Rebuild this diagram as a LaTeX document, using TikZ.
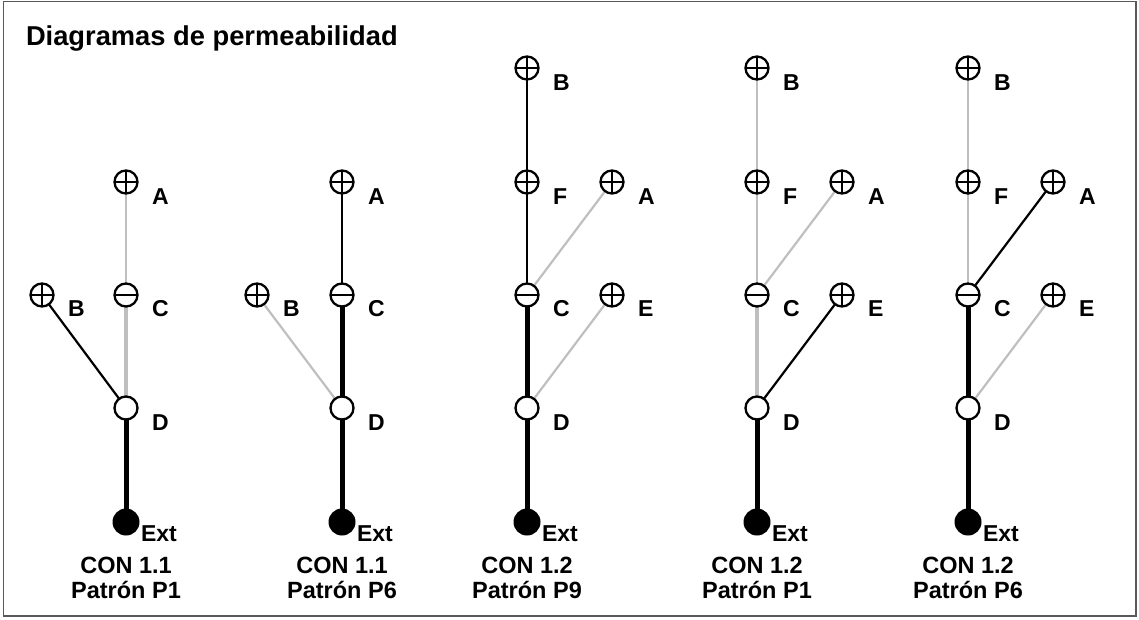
\documentclass[tikz,border=0pt]{standalone}
\usepackage{fontspec}
\setmainfont{Liberation Sans}
\usetikzlibrary{backgrounds}
\begin{document}
\begin{tikzpicture}[x=1pt,y=-1pt,
  every node/.style={inner sep=0pt, outer sep=0pt},
  lab/.style={font=\bfseries\fontsize{23}{27}\selectfont, anchor=base west},
  captxt/.style={font=\bfseries\fontsize{23.5}{27}\selectfont, anchor=base},
  sym/.style={circle, draw=black, line width=2.3pt, fill=white, minimum size=23pt},
  symplus/.style={sym, path picture={\draw[line width=1.9pt] (path picture bounding box.north) -- (path picture bounding box.south) (path picture bounding box.west) -- (path picture bounding box.east);}},
  symminus/.style={sym, path picture={\draw[line width=1.9pt] (path picture bounding box.west) -- (path picture bounding box.east);}},
  symopen/.style={sym},
  symext/.style={circle, fill=black, minimum size=27pt},
  bk/.style={line width=2.2pt, black},
  bkthick/.style={line width=5pt, black},
  gy/.style={line width=2.2pt, black!25},
  gythick/.style={line width=4.5pt, black!25},
]
\useasboundingbox (0,0) rectangle (1139,619);
\draw[line width=1.5pt, black!65] (3.5,1.5) rectangle (1136,616);
\node[anchor=base west, font=\bfseries\fontsize{27.3}{31}\selectfont] (title) at (26,45) {Diagramas de permeabilidad};

% ---------- Diagram 1 ----------
\node[symplus] (a1) at (126,182) {};
\node[symminus] (c1) at (126,295) {};
\node[symopen] (d1) at (126,408) {};
\node[symext] (x1) at (126,522) {};
\node[symplus] (b1) at (42,295) {};
\node[lab] (la1) at (152,204) {A};
\node[lab] (lc1) at (152,316) {C};
\node[lab] (ld1) at (152,430) {D};
\node[lab] (lb1) at (68,316) {B};
\node[lab] (lx1) at (141,541) {Ext};
\node[captxt] (t1) at (126,573) {CON 1.1};
\node[captxt] (p1) at (126,598) {Patrón P1};
\begin{scope}[on background layer]
\draw[gy] (a1.center) -- (c1.center);
\draw[gythick] (c1.center) -- (d1.center);
\draw[bk] (b1.center) -- (d1.center);
\draw[bkthick] (d1.center) -- (x1.center);
\end{scope}

% ---------- Diagram 2 ----------
\node[symplus] (a2) at (342,182) {};
\node[symminus] (c2) at (342,295) {};
\node[symopen] (d2) at (342,408) {};
\node[symext] (x2) at (342,522) {};
\node[symplus] (b2) at (257,295) {};
\node[lab] (la2) at (368,204) {A};
\node[lab] (lc2) at (368,316) {C};
\node[lab] (ld2) at (368,430) {D};
\node[lab] (lb2) at (283,316) {B};
\node[lab] (lx2) at (357,541) {Ext};
\node[captxt] (t2) at (342,573) {CON 1.1};
\node[captxt] (p2) at (342,598) {Patrón P6};
\begin{scope}[on background layer]
\draw[bk] (a2.center) -- (c2.center);
\draw[bkthick] (c2.center) -- (d2.center);
\draw[gy] (b2.center) -- (d2.center);
\draw[bkthick] (d2.center) -- (x2.center);
\end{scope}

% ---------- Diagram 3 ----------
\node[symplus] (b3) at (527,68) {};
\node[symplus] (f3) at (527,182) {};
\node[symplus] (a3) at (612,182) {};
\node[symminus] (c3) at (527,295) {};
\node[symplus] (e3) at (612,295) {};
\node[symopen] (d3) at (527,408) {};
\node[symext] (x3) at (527,522) {};
\node[lab] (lb3) at (553,90) {B};
\node[lab] (lf3) at (553,204) {F};
\node[lab] (la3) at (638,204) {A};
\node[lab] (lc3) at (553,316) {C};
\node[lab] (le3) at (638,316) {E};
\node[lab] (ld3) at (553,430) {D};
\node[lab] (lx3) at (542,541) {Ext};
\node[captxt] (t3) at (527,573) {CON 1.2};
\node[captxt] (p3) at (527,598) {Patrón P9};
\begin{scope}[on background layer]
\draw[bk] (b3.center) -- (f3.center);
\draw[bk] (f3.center) -- (c3.center);
\draw[gy] (a3.center) -- (c3.center);
\draw[bkthick] (c3.center) -- (d3.center);
\draw[gy] (e3.center) -- (d3.center);
\draw[bkthick] (d3.center) -- (x3.center);
\end{scope}

% ---------- Diagram 4 ----------
\node[symplus] (b4) at (757,68) {};
\node[symplus] (f4) at (757,182) {};
\node[symplus] (a4) at (842,182) {};
\node[symminus] (c4) at (757,295) {};
\node[symplus] (e4) at (842,295) {};
\node[symopen] (d4) at (757,408) {};
\node[symext] (x4) at (757,522) {};
\node[lab] (lb4) at (783,90) {B};
\node[lab] (lf4) at (783,204) {F};
\node[lab] (la4) at (868,204) {A};
\node[lab] (lc4) at (783,316) {C};
\node[lab] (le4) at (868,316) {E};
\node[lab] (ld4) at (783,430) {D};
\node[lab] (lx4) at (772,541) {Ext};
\node[captxt] (t4) at (757,573) {CON 1.2};
\node[captxt] (p4) at (757,598) {Patrón P1};
\begin{scope}[on background layer]
\draw[gy] (b4.center) -- (f4.center);
\draw[gy] (f4.center) -- (c4.center);
\draw[gy] (a4.center) -- (c4.center);
\draw[gythick] (c4.center) -- (d4.center);
\draw[bk] (e4.center) -- (d4.center);
\draw[bkthick] (d4.center) -- (x4.center);
\end{scope}

% ---------- Diagram 5 ----------
\node[symplus] (b5) at (968,68) {};
\node[symplus] (f5) at (968,182) {};
\node[symplus] (a5) at (1053,182) {};
\node[symminus] (c5) at (968,295) {};
\node[symplus] (e5) at (1053,295) {};
\node[symopen] (d5) at (968,408) {};
\node[symext] (x5) at (968,522) {};
\node[lab] (lb5) at (994,90) {B};
\node[lab] (lf5) at (994,204) {F};
\node[lab] (la5) at (1079,204) {A};
\node[lab] (lc5) at (994,316) {C};
\node[lab] (le5) at (1079,316) {E};
\node[lab] (ld5) at (994,430) {D};
\node[lab] (lx5) at (983,541) {Ext};
\node[captxt] (t5) at (968,573) {CON 1.2};
\node[captxt] (p5) at (968,598) {Patrón P6};
\begin{scope}[on background layer]
\draw[gy] (b5.center) -- (f5.center);
\draw[gy] (f5.center) -- (c5.center);
\draw[bk] (a5.center) -- (c5.center);
\draw[bkthick] (c5.center) -- (d5.center);
\draw[gy] (e5.center) -- (d5.center);
\draw[bkthick] (d5.center) -- (x5.center);
\end{scope}
\end{tikzpicture}
\end{document}
